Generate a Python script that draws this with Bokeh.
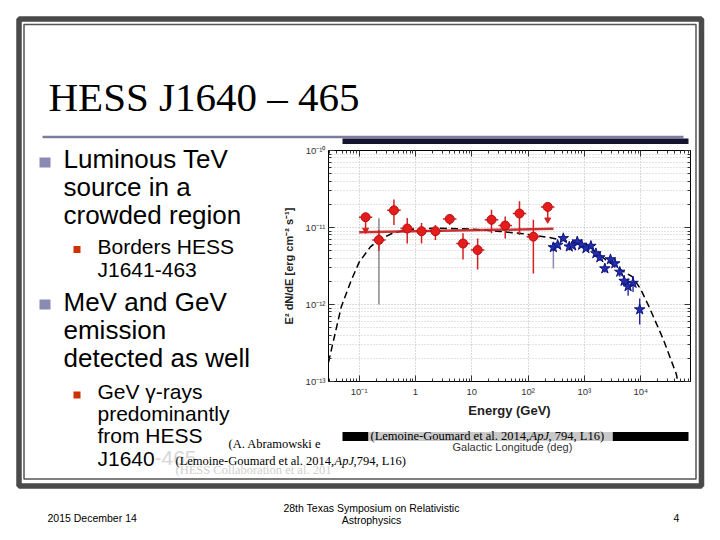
from bokeh.plotting import figure
from bokeh.layouts import column
from bokeh.models import Range1d, LogAxis, FixedTicker, CustomJSTickFormatter
from bokeh.core.properties import value
from bokeh.embed import file_html
from bokeh.resources import INLINE

# ---------------- data ----------------
# Fermi-LAT points (red)
fermi_E = [0.130, 0.224, 0.414, 0.713, 1.28, 2.26, 4.05, 6.98, 12.7, 22.4, 39.2, 70.3, 124, 223]
fermi_F = [1.36e-11, 6.9e-12, 1.67e-11, 9.7e-12, 8.95e-12, 8.95e-12, 1.29e-11, 6.2e-12,
           5.1e-12, 1.26e-11, 1.06e-11, 1.52e-11, 7.6e-12, 1.85e-11]
fermi_E_lo = [0.099, 0.170, 0.314, 0.541, 0.971, 1.72, 3.07, 5.30, 9.64, 17.0, 29.8, 53.4, 94.1, 169]
fermi_E_hi = [0.171, 0.295, 0.546, 0.940, 1.69, 2.98, 5.34, 9.20, 16.7, 29.5, 51.7, 92.7, 163, 294]
fermi_F_lo = [9.3e-12, 5.0e-12, 1.08e-11, 6.2e-12, 6.2e-12, 6.9e-12, 1.08e-11, 3.85e-12,
              2.84e-12, 8.4e-12, 7.2e-12, 8.0e-12, 2.52e-12, 1.26e-11]
fermi_F_hi = [1.36e-11, 9.3e-12, 2.31e-11, 1.33e-11, 1.14e-11, 1.08e-11, 1.47e-11, 8.4e-12,
              7.2e-12, 1.70e-11, 1.39e-11, 2.19e-11, 1.26e-11, 1.85e-11]
fermi_UL = [True, False, False, False, False, False, False, False, False, False, False, False, False, True]
# grey (systematic) bar of the 2nd Fermi point
fermi_sys_E = [0.224]
fermi_sys_lo = [1.0e-12]
fermi_sys_hi = [1.32e-11]

# power-law fit to the Fermi points
fit_E = [0.1, 282]
fit_F = [8.7e-12, 9.6e-12]

# H.E.S.S. points (blue stars)
hess_E = [281, 335, 422, 539, 618, 747, 891, 1064, 1303, 1600, 1880, 2306, 2904, 3467,
          4250, 5070, 5970, 7310, 9600]
hess_F = [5.52e-12, 5.93e-12, 7.24e-12, 5.64e-12, 5.81e-12, 6.56e-12, 5.93e-12, 5.36e-12,
          5.75e-12, 4.61e-12, 4.08e-12, 2.93e-12, 3.85e-12, 3.41e-12, 2.65e-12, 2.02e-12,
          1.72e-12, 1.90e-12, 8.6e-13]
hess_F_lo = [4.9e-12, 5.4e-12, 6.7e-12, 5.2e-12, 5.4e-12, 6.1e-12, 5.5e-12, 5.0e-12, 5.3e-12,
             4.25e-12, 3.7e-12, 2.6e-12, 3.45e-12, 3.0e-12, 2.3e-12, 1.7e-12, 1.3e-12, 1.45e-12, 5.5e-13]
hess_F_hi = [6.2e-12, 6.5e-12, 7.8e-12, 6.1e-12, 6.25e-12, 7.0e-12, 6.4e-12, 5.75e-12, 6.2e-12,
             5.0e-12, 4.5e-12, 3.3e-12, 4.25e-12, 3.8e-12, 3.0e-12, 2.4e-12, 2.2e-12, 2.35e-12, 1.2e-12]
hess_sys_E = [281]
hess_sys_lo = [2.93e-12]
hess_sys_hi = [5.52e-12]

# model curve (dashed)
model_E = [0.0285, 0.048, 0.071, 0.10, 0.158, 0.224, 0.398, 0.708, 2.0, 10, 31.6, 81, 240,
           708, 1585, 2400, 3980, 7080, 10000, 14100, 25100, 42700, 45700]
model_F = [1.78e-13, 9.3e-13, 2.0e-12, 3.55e-12, 5.6e-12, 6.9e-12, 8.5e-12, 9.3e-12, 9.8e-12,
           9.55e-12, 8.9e-12, 8.3e-12, 7.4e-12, 6.3e-12, 4.9e-12, 3.8e-12, 2.95e-12, 2.3e-12,
           1.58e-12, 9.3e-13, 3.55e-13, 1.26e-13, 1.0e-13]

x_major = [0.1, 1, 10, 100, 1000, 10000]
x_minor = [m * d for d in [0.01, 0.1, 1, 10, 100, 1000, 10000] for m in range(2, 10)]
y_major = [1e-13, 1e-12, 1e-11, 1e-10]
y_minor = [m * d for d in [1e-13, 1e-12, 1e-11] for m in range(2, 10)]

title_text = "HESS J1640 \u2013 465"
x_label = "Energy (GeV)"
y_label = "E\u00b2 dN/dE [erg cm\u207b\u00b2 s\u207b\u00b9]"

SANS = "Liberation Sans"
SERIF = "Liberation Serif"
W, H = 720, 540

# ---------------- slide (background) ----------------
s = figure(width=W, height=H, x_range=Range1d(0, W), y_range=Range1d(H, 0),
           output_backend="svg", toolbar_location=None, min_border=0,
           x_axis_location=None, y_axis_location=None)
s.frame_align = False
s.grid.visible = False
s.outline_line_color = None
s.background_fill_color = "white"
s.border_fill_color = "white"

# frame
s.quad(left=[18.5], right=[701], top=[18.5], bottom=[485.5], fill_alpha=0,
       line_color="#4a4a4a", line_width=5.5)
s.quad(left=[23.5], right=[695.5], top=[24], bottom=[478.5], fill_alpha=0,
       line_color="#555555", line_width=1.5)

# title & underline
s.text(x=[48], y=[96], text=[title_text], text_font=value(SERIF), text_font_size="41px",
       text_color="black", text_baseline="middle")
s.line(x=[42, 683], y=[136.5, 136.5], line_color="#7c7ca0", line_width=2.5)
s.quad(left=[342], right=[688], top=[138], bottom=[143.5], fill_color="#14142e", line_color=None)

# bullets
s.quad(left=[39, 39], right=[50, 50], top=[157, 299], bottom=[167, 309],
       fill_color="#8a8ab4", line_color=None)
s.quad(left=[73, 73], right=[80, 80], top=[245.5, 391], bottom=[252.5, 398],
       fill_color="#cc3300", line_color=None)

lvl1 = ["Luminous TeV", "source in a", "crowded region", "MeV and GeV", "emission", "detected as well"]
lvl1_y = [158, 186, 214, 301, 329, 357]
s.text(x=[63] * len(lvl1), y=lvl1_y, text=lvl1, text_font=value(SANS), text_font_size="26px",
       text_color="black", text_baseline="middle")
lvl2 = ["Borders HESS", "J1641-463", "GeV \u03b3-rays", "predominantly", "from HESS", "J1640"]
lvl2_y = [245.5, 269, 390.5, 412.5, 434.5, 457.5]
s.text(x=[97] * len(lvl2), y=lvl2_y, text=lvl2, text_font=value(SANS), text_font_size="21px",
       text_color="black", text_baseline="middle")
s.text(x=[154], y=[457.5], text=["-465"], text_font=value(SANS), text_font_size="21px",
       text_color="#d6d6d6", text_baseline="middle")

# citations
s.text(x=[175], y=[469.5], text=["(HESS Collaboration et al. 201"], text_font=value(SERIF),
       text_font_size="12.5px", text_color="#cfcfcf", text_baseline="middle")
s.text(x=[228], y=[443.5], text=["(A. Abramowski e"], text_font=value(SERIF),
       text_font_size="12.5px", text_color="black", text_baseline="middle")
s.text(x=[175, 353], y=[460.5, 460.5], text=["(Lemoine-Goumard et al. 2014, ", " ,794, L16)"],
       text_font=value(SERIF), text_font_size="12.5px", text_color="black", text_baseline="middle")
s.text(x=[334], y=[460.5], text=["ApJ"], text_font=value(SERIF), text_font_style="italic",
       text_font_size="12.5px", text_color="black", text_baseline="middle")

# caption bar below the chart
s.quad(left=[342, 612], right=[368, 688], top=[431.5, 431.5], bottom=[440.5, 440.5],
       fill_color="black", line_color=None)
s.quad(left=[368], right=[612], top=[431.5], bottom=[440.5], fill_color="#c9c9c9", line_color=None)
s.text(x=[370, 548], y=[435.5, 435.5], text=["(Lemoine-Goumard et al. 2014, ", ", 794, L16)"],
       text_font=value(SERIF), text_font_size="12.5px", text_color="black", text_baseline="middle")
s.text(x=[529], y=[435.5], text=["ApJ"], text_font=value(SERIF), text_font_style="italic",
       text_font_size="12.5px", text_color="black", text_baseline="middle")
s.text(x=[452], y=[446], text=["Galactic Longitude (deg)"], text_font=value(SANS),
       text_font_size="11px", text_color="#333333", text_baseline="middle")

# footer
s.text(x=[47], y=[517], text=["2015 December 14"], text_font=value(SANS), text_font_size="10.5px",
       text_color="black", text_baseline="middle")
s.text(x=[371, 371], y=[507, 519], text=["28th Texas Symposium on Relativistic", "Astrophysics"],
       text_font=value(SANS), text_font_size="10.5px", text_color="black",
       text_baseline="middle", text_align="center")
s.text(x=[676], y=[517], text=["4"], text_font=value(SANS), text_font_size="10.5px",
       text_color="black", text_baseline="middle", text_align="center")

# ---------------- chart (overlaid) ----------------
p = figure(width=W, height=H, x_axis_type="log", y_axis_type="log",
           x_range=Range1d(0.0285, 7.66e4), y_range=Range1d(1e-13, 1e-10),
           output_backend="svg", toolbar_location=None,
           min_border_left=328, min_border_right=30, min_border_top=150, min_border_bottom=159)
p.frame_align = False
p.background_fill_alpha = 0
p.border_fill_alpha = 0
p.outline_line_color = "black"
p.outline_line_width = 1
p.styles = {"position": "absolute", "left": "0px", "top": "0px"}

sup_code = """
const e = Math.round(Math.log10(tick));
if (e == 0) return '1';
if (e == 1) return '10';
const sup = {'-':'\u207b','0':'\u2070','1':'\u00b9','2':'\u00b2','3':'\u00b3','4':'\u2074',
             '5':'\u2075','6':'\u2076','7':'\u2077','8':'\u2078','9':'\u2079'};
return '10' + String(e).split('').map(c => sup[c]).join('');
"""
blank = CustomJSTickFormatter(code="return '';")

xt = FixedTicker(ticks=x_major, minor_ticks=x_minor)
yt = FixedTicker(ticks=y_major, minor_ticks=y_minor)


def style_axis(ax):
    ax.axis_line_color = "black"
    ax.major_tick_in = 6
    ax.major_tick_out = 0
    ax.minor_tick_in = 3
    ax.minor_tick_out = 0
    ax.major_tick_line_color = "#333333"
    ax.minor_tick_line_color = "#333333"
    ax.major_label_text_font = SANS
    ax.major_label_text_font_size = "9.5px"
    ax.major_label_text_color = "#333333"


p.xaxis.ticker = xt
p.yaxis.ticker = yt
p.xaxis.formatter = CustomJSTickFormatter(code=sup_code)
p.yaxis.formatter = CustomJSTickFormatter(code=sup_code)
p.xaxis.axis_label = x_label
p.yaxis.axis_label = y_label
for ax in (p.xaxis[0], p.yaxis[0]):
    style_axis(ax)
    ax.axis_label_text_font = SANS
    ax.axis_label_text_font_style = "bold"
    ax.axis_label_text_color = "#222222"
p.xaxis.axis_label_text_font_size = "13px"
p.xaxis.axis_label_standoff = 3
p.xaxis.major_label_standoff = 4
p.yaxis.axis_label_text_font_size = "11px"
p.yaxis.axis_label_standoff = 8
p.yaxis.major_label_standoff = 3

top_ax = LogAxis(ticker=xt, formatter=blank)
right_ax = LogAxis(ticker=yt, formatter=blank)
for ax in (top_ax, right_ax):
    style_axis(ax)
p.add_layout(top_ax, "above")
p.add_layout(right_ax, "right")

p.xgrid.ticker = xt
p.ygrid.ticker = yt
p.xgrid.grid_line_color = "#b5b5b5"
p.xgrid.grid_line_dash = "1 2"
p.ygrid.grid_line_color = "#b5b5b5"
p.ygrid.grid_line_dash = "1 2"
p.ygrid.minor_grid_line_color = "#c8c8c8"
p.ygrid.minor_grid_line_dash = "1 2"

# model curve
p.line(model_E, model_F, line_color="black", line_width=1.5, line_dash="7 4")

# grey systematic bars
p.segment(x0=fermi_sys_E, y0=fermi_sys_lo, x1=fermi_sys_E, y1=fermi_sys_hi,
          line_color="#888888", line_width=1.5)
p.segment(x0=hess_sys_E, y0=hess_sys_lo, x1=hess_sys_E, y1=hess_sys_hi,
          line_color="#8a8ab8", line_width=1.5)

# fit line
p.line(fit_E, fit_F, line_color="#c41e1e", line_width=2.5, line_alpha=0.9)

# Fermi points
p.segment(x0=fermi_E, y0=fermi_F_lo, x1=fermi_E, y1=fermi_F_hi, line_color="#d42020", line_width=1.5)
p.segment(x0=fermi_E_lo, y0=fermi_F, x1=fermi_E_hi, y1=fermi_F, line_color="#d42020", line_width=1.5)
ul_E = [e for e, u in zip(fermi_E, fermi_UL) if u]
ul_F = [f for f, u in zip(fermi_F_lo, fermi_UL) if u]
p.scatter(ul_E, ul_F, marker="inverted_triangle", size=6, fill_color="#d42020", line_color="#d42020")
p.scatter(fermi_E, fermi_F, marker="circle", size=9, fill_color="#e51c1c", line_color="#b51010")

# HESS points
p.segment(x0=hess_E, y0=hess_F_lo, x1=hess_E, y1=hess_F_hi, line_color="#1a1a9c", line_width=1.3)
p.scatter(hess_E, hess_F, marker="star", size=11, fill_color="#1f2fb0", line_color="#14147a")

layout = column(s, p, width=W, height=H, styles={"position": "relative"})

open("out.html", "w").write(file_html(layout, INLINE))
